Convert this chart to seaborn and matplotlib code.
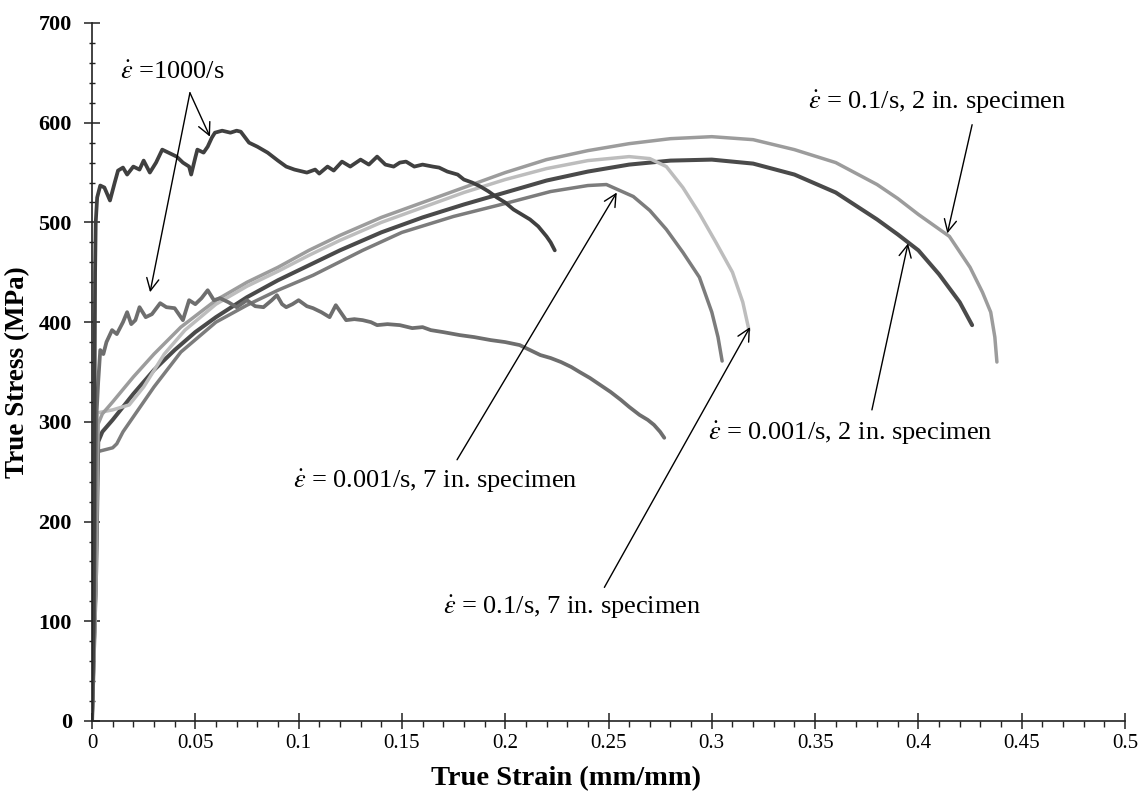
import numpy as np
import pandas as pd
import matplotlib
matplotlib.use("Agg")
import matplotlib.pyplot as plt
import seaborn as sns
from matplotlib.ticker import MultipleLocator

# ---------------- data ----------------
# 1000/s, upper (dark) noisy curve
hr1_strain = [0, 0.0008, 0.0012, 0.0015, 0.0018, 0.0025, 0.004, 0.006, 0.0087, 0.011, 0.0126,
              0.015, 0.017, 0.02, 0.023, 0.025, 0.028, 0.031, 0.034, 0.037, 0.041, 0.044,
              0.047, 0.048, 0.05, 0.051, 0.054, 0.056, 0.058, 0.0595, 0.063, 0.067, 0.07,
              0.072, 0.076, 0.08, 0.085, 0.09, 0.094, 0.098, 0.104, 0.108, 0.11, 0.114,
              0.117, 0.121, 0.125, 0.13, 0.134, 0.138, 0.142, 0.146, 0.149, 0.152, 0.156,
              0.16, 0.165, 0.168, 0.172, 0.177, 0.18, 0.184, 0.188, 0.192, 0.196, 0.2,
              0.204, 0.208, 0.212, 0.216, 0.22, 0.222, 0.224]
hr1_stress = [0, 100, 300, 450, 500, 525, 537, 535, 522, 540, 552,
              555, 548, 556, 553, 562, 550, 560, 573, 570, 566, 560,
              556, 548, 565, 573, 570, 576, 585, 590, 592, 590, 592,
              591, 580, 576, 570, 562, 556, 553, 550, 553, 549, 556,
              552, 561, 556, 563, 558, 566, 558, 556, 560, 561, 556,
              558, 556, 555, 551, 548, 543, 540, 536, 531, 525, 520,
              513, 508, 503, 496, 486, 480, 472]

# 1000/s, lower (grey) noisy curve
hr2_strain = [0, 0.001, 0.0015, 0.002, 0.003, 0.004, 0.0055, 0.007, 0.0097, 0.012, 0.015,
              0.017, 0.019, 0.021, 0.023, 0.026, 0.029, 0.033, 0.036, 0.04, 0.044, 0.047,
              0.05, 0.053, 0.056, 0.059, 0.062, 0.066, 0.07, 0.075, 0.079, 0.083, 0.087,
              0.0895, 0.092, 0.094, 0.097, 0.1, 0.104, 0.107, 0.111, 0.115, 0.118, 0.121,
              0.123, 0.127, 0.131, 0.135, 0.138, 0.143, 0.149, 0.155, 0.16, 0.164, 0.17,
              0.178, 0.185, 0.193, 0.2, 0.207, 0.212, 0.217, 0.222, 0.227, 0.232, 0.236,
              0.241, 0.246, 0.251, 0.256, 0.26, 0.265, 0.269, 0.272, 0.275, 0.277]
hr2_stress = [0, 100, 200, 300, 340, 372, 368, 380, 392, 388, 400,
              410, 398, 402, 415, 405, 408, 419, 415, 414, 402, 422,
              418, 424, 432, 422, 424, 420, 415, 422, 416, 415, 422,
              427, 418, 415, 418, 422, 416, 414, 410, 405, 417, 408,
              402, 403, 402, 400, 397, 398, 397, 394, 395, 392, 390,
              387, 385, 382, 380, 377, 372, 367, 364, 360, 355, 350,
              344, 337, 330, 322, 315, 307, 302, 297, 290, 284]

# 0.001/s, 2 in. specimen
s3_strain = [0, 0.002, 0.003, 0.005, 0.01, 0.02, 0.03, 0.04, 0.05, 0.06, 0.075, 0.09, 0.105,
             0.12, 0.14, 0.16, 0.18, 0.2, 0.22, 0.24, 0.26, 0.28, 0.3, 0.32, 0.34, 0.36,
             0.38, 0.39, 0.4, 0.41, 0.42, 0.426]
s3_stress = [0, 150, 280, 290, 302, 328, 352, 372, 390, 405, 425, 442, 457,
             472, 490, 505, 518, 530, 542, 551, 558, 562, 563, 559, 548, 530,
             503, 488, 472, 448, 420, 397]

# 0.1/s, 2 in. specimen
s4_strain = [0, 0.002, 0.003, 0.005, 0.01, 0.02, 0.03, 0.043, 0.06, 0.075, 0.09, 0.105, 0.12,
             0.14, 0.16, 0.18, 0.2, 0.22, 0.24, 0.26, 0.28, 0.3, 0.32, 0.34, 0.36, 0.38,
             0.39, 0.4, 0.415, 0.425, 0.431, 0.435, 0.437, 0.438]
s4_stress = [0, 150, 298, 308, 320, 345, 368, 395, 422, 440, 455, 472, 487,
             505, 520, 535, 550, 563, 572, 579, 584, 586, 583, 573, 560, 538,
             524, 508, 486, 455, 430, 410, 385, 360]

# 0.001/s, 7 in. specimen
s5_strain = [0, 0.002, 0.0025, 0.01, 0.012, 0.015, 0.02, 0.03, 0.043, 0.06, 0.075, 0.09,
             0.107, 0.131, 0.15, 0.175, 0.2, 0.222, 0.24, 0.249, 0.262, 0.27, 0.278,
             0.286, 0.294, 0.3, 0.303, 0.305]
s5_stress = [0, 150, 270, 274, 278, 290, 305, 335, 370, 400, 417, 432,
             447, 472, 490, 506, 519, 531, 537, 538, 526, 512, 493,
             470, 445, 410, 385, 361]

# 0.1/s, 7 in. specimen
s6_strain = [0, 0.002, 0.0025, 0.01, 0.018, 0.025, 0.035, 0.045, 0.06, 0.075, 0.09, 0.105,
             0.12, 0.14, 0.16, 0.18, 0.2, 0.22, 0.24, 0.26, 0.27, 0.278, 0.286, 0.294,
             0.302, 0.31, 0.315, 0.318]
s6_stress = [0, 150, 309, 312, 317, 335, 368, 392, 418, 436, 451, 467,
             482, 500, 515, 530, 543, 554, 562, 566, 564, 556, 535, 509,
             480, 450, 420, 392]

x_ticks = [0, 0.05, 0.1, 0.15, 0.2, 0.25, 0.3, 0.35, 0.4, 0.45, 0.5]
x_tick_labels = ["0", "0.05", "0.1", "0.15", "0.2", "0.25", "0.3", "0.35", "0.4", "0.45", "0.5"]
y_ticks = [0, 100, 200, 300, 400, 500, 600, 700]

labels = [r"$\dot{\varepsilon}$ =1000/s",
          r"$\dot{\varepsilon}$ = 0.1/s, 2 in. specimen",
          r"$\dot{\varepsilon}$ = 0.001/s, 7 in. specimen",
          r"$\dot{\varepsilon}$ = 0.001/s, 2 in. specimen",
          r"$\dot{\varepsilon}$ = 0.1/s, 7 in. specimen"]

# ---------------- styling ----------------
sns.set_theme(style="ticks")
plt.rcParams["font.family"] = ["Liberation Serif", "DejaVu Serif"]
plt.rcParams["mathtext.fontset"] = "stix"
for key in ["text.color", "axes.labelcolor", "xtick.color", "ytick.color"]:
    plt.rcParams[key] = "black"

fig = plt.figure(figsize=(11.43, 7.93), dpi=100)
ax = fig.add_axes([92 / 1143, 1 - 721 / 793, (1125 - 92) / 1143, (721 - 23) / 793])

curves = [
    (s5_strain, s5_stress, "#7c7c7c", 2.5),
    (s3_strain, s3_stress, "#4a4a4a", 2.9),
    (s6_strain, s6_stress, "#bdbdbd", 2.5),
    (s4_strain, s4_stress, "#9c9c9c", 2.5),
    (hr2_strain, hr2_stress, "#6e6e6e", 2.7),
    (hr1_strain, hr1_stress, "#404040", 2.7),
]
for xs, ys, col, lw in curves:
    df = pd.DataFrame({"strain": xs, "stress": ys})
    sns.lineplot(data=df, x="strain", y="stress", ax=ax, sort=False, estimator=None,
                 color=col, lw=lw, solid_capstyle="round")

ax.set_xlim(0, 0.5)
ax.set_ylim(0, 700)
ax.set_xticks(x_ticks)
ax.set_xticklabels(x_tick_labels)
ax.set_yticks(y_ticks)
ax.xaxis.set_minor_locator(MultipleLocator(0.01))
ax.yaxis.set_minor_locator(MultipleLocator(20))

for s in ["top", "right"]:
    ax.spines[s].set_visible(False)
for s in ["left", "bottom"]:
    ax.spines[s].set_linewidth(1.2)
    ax.spines[s].set_color("#222222")

ax.tick_params(axis="x", which="major", direction="inout", length=11, width=1.1,
               labelsize=15, pad=4, color="#222222")
ax.tick_params(axis="x", which="minor", direction="out", length=4, width=1.0, color="#222222")
ax.tick_params(axis="y", which="major", direction="inout", length=11, width=1.1,
               labelsize=16, pad=9, color="#222222")
ax.tick_params(axis="y", which="minor", direction="inout", length=4, width=1.0, color="#222222")
for lab in ax.get_yticklabels():
    lab.set_fontweight("bold")

ax.set_xlabel("True Strain (mm/mm)", fontsize=20.5, fontweight="bold", labelpad=6)
ax.set_ylabel("True Stress (MPa)", fontsize=19.5, fontweight="bold", labelpad=6)
ax.xaxis.set_label_coords((566 - 92) / 1033, -0.064)

# ---------------- annotations ----------------
fs = 19
ax.text(0.0136, 650, labels[0], fontsize=fs, ha="left", va="center")
ax.text(0.3466, 620, labels[1], fontsize=fs, ha="left", va="center")
ax.text(0.0973, 240, labels[2], fontsize=fs, ha="left", va="center")
ax.text(0.298, 288, labels[3], fontsize=fs, ha="left", va="center")
ax.text(0.1699, 114, labels[4], fontsize=fs, ha="left", va="center")

arrow_kw = dict(arrowstyle="->", color="black", lw=1.0, mutation_scale=22, shrinkA=0, shrinkB=0)
arrows = [
    ((0.0474, 630), (0.0571, 586)),
    ((0.0474, 630), (0.0281, 430)),
    ((0.426, 598), (0.414, 489)),
    ((0.3775, 312), (0.395, 479)),
    ((0.1767, 262), (0.254, 530)),
    ((0.248, 134), (0.3185, 395)),
]
for start, end in arrows:
    ax.annotate("", xy=end, xytext=start, arrowprops=arrow_kw)

fig.savefig("out.png", dpi=100)
